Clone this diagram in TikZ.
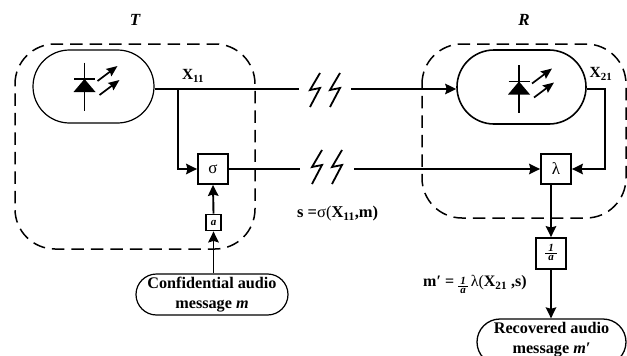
\documentclass[tikz,border=0pt]{standalone}
\usepackage{fontspec}
\setmainfont{Liberation Serif}
\usetikzlibrary{arrows.meta,shapes.misc}
\tikzset{
  x=1pt,y=-1pt,
  wire/.style={line width=1.9pt,line cap=butt},
  arr/.style={wire,-{Stealth[length=11pt,width=10.5pt,inset=1.5pt]}},
  smallarr/.style={line width=1.7pt,-{Stealth[length=11pt,width=9pt,inset=1.5pt]}},
  zone/.style={line width=1.5pt,dash pattern=on 12.5pt off 7pt},
  pill/.style={draw,line width=1.2pt,rounded rectangle,inner sep=0pt,align=center},
  opbox/.style={draw,line width=1.8pt,minimum width=30pt,minimum height=30pt,inner sep=0pt,font=\fontsize{17}{17}\selectfont},
  lbl/.style={font=\fontsize{15.5}{15.5}\selectfont\bfseries,inner sep=0pt},
  bolt/.style={line width=1.8pt,line join=miter},
  txt/.style={font=\fontsize{16.2}{20}\selectfont\bfseries,align=center,inner sep=0pt}
}
\newcommand{\led}[2]{%
  \draw[line width=1.6pt] (#1,#2-24) -- (#1,#2+24);
  \draw[line width=1.6pt] (#1-10.5,#2-7.5) -- (#1+10.5,#2-7.5);
  \fill (#1,#2-7.5) -- (#1+11,#2+5.5) -- (#1-11,#2+5.5) -- cycle;
  \draw[smallarr] (#1+13,#2-5.5) -- (#1+33,#2-20.5);
  \draw[smallarr] (#1+15,#2+8.5) -- (#1+35,#2-6.5);
}
\newcommand{\boltat}[2]{%
  \draw[bolt] (#1+5,#2-17) -- (#1-5,#2) -- (#1+5,#2-2) -- (#1-5,#2+17);
}
% fraction one over a: #1 font size, #2 bar width
\newcommand{\ofrac}[2]{\raisebox{-0.42ex}{\fontsize{#1}{#1}\selectfont\bfseries\itshape\setlength{\tabcolsep}{0pt}\renewcommand{\arraystretch}{0.8}\begin{tabular}{@{}c@{}}\makebox[#2]{1}\\[-1pt]\hline\noalign{\vskip 1pt}a\end{tabular}}}
\begin{document}
\begin{tikzpicture}
\useasboundingbox (0,0) rectangle (627,356);
% zones
\draw[zone] (15,84) arc[start angle=180,end angle=270,radius=40] -- (215,44) arc[start angle=270,end angle=360,radius=40] -- (255,209) arc[start angle=0,end angle=90,radius=40] -- (55,249) arc[start angle=90,end angle=180,radius=40] -- cycle;
\draw[zone] (422,84) arc[start angle=180,end angle=270,radius=40] -- (586,44) arc[start angle=270,end angle=360,radius=40] -- (626,178) arc[start angle=0,end angle=90,radius=40] -- (462,218) arc[start angle=90,end angle=180,radius=40] -- cycle;
% pills
\node[pill,minimum width=121pt,minimum height=73pt] (tx) at (93.5,86.5) {};
\node[pill,line width=1.6pt,minimum width=129pt,minimum height=74pt] (rx) at (521.5,87) {};
\led{84.5}{86.5}
\led{519}{89}
% boxes
\node[opbox] (sigma) at (213,169) {σ};
\node[opbox] (lambda) at (556,169) {λ};
\node[draw,line width=1.8pt,minimum width=15pt,minimum height=16pt,inner sep=0pt,font=\fontsize{11}{11}\selectfont\bfseries\itshape] (scale) at (213.5,222.5) {a};
\node[draw,line width=1.8pt,minimum width=30pt,minimum height=31pt,inner sep=0pt] (inv) at (551,253.5) {\ofrac{11}{12pt}};
\node[pill,minimum width=152pt,minimum height=41pt] (src) at (212,294.5) {};
\node[txt] (srct) at (212,294.5) {Confidential audio\\message \textit{m}};
\node[pill,line width=1.3pt,minimum width=149pt,minimum height=46pt] (dst) at (551.5,342) {};
\node[txt,anchor=north] (dstt) at (551.5,322) {Recovered audio\\message \textit{m′}};
% labels
\node[lbl,font=\fontsize{17}{17}\selectfont\bfseries\itshape] (tl) at (135,20) {T};
\node[lbl,font=\fontsize{17}{17}\selectfont\bfseries\itshape] (rl) at (524,20) {R};
\node[lbl] (x11) at (193,76) {X\textsubscript{11}};
\node[lbl] (x21) at (601,74) {X\textsubscript{21}};
\node[lbl,anchor=west,font=\fontsize{16.5}{16.5}\selectfont\bfseries] (seq) at (297,214) {s =\textmd{σ(}X\textsubscript{11},m)};
\node[lbl,anchor=west,font=\fontsize{16}{16}\selectfont\bfseries] (meq) at (423,286) {m′ = \ofrac{11}{10pt}\,\textmd{λ(}X\textsubscript{21} ,s)};
% coordinates
\coordinate (a1) at (299,89);
\coordinate (a2) at (351,89);
\coordinate (b1) at (300,169);
\coordinate (b2) at (354,169);
\coordinate (tap) at (178,89);
\coordinate (corner) at (605,89);
% bolts
\boltat{315}{90}
\boltat{335}{90}
\boltat{317}{167}
\boltat{337}{167}
% connectors
\draw[wire] (tx.east |- a1) -- (a1);
\draw[arr] (a2) -- (rx.west |- a2);
\draw[arr] (tap) |- (sigma.west);
\draw[wire] (sigma.east) -- (b1);
\draw[arr] (b2) -- (lambda.west);
\draw[arr] (rx.east |- corner) -- (corner) |- (lambda.east);
\draw[arr] (scale.north) -- (sigma.south);
\draw[arr] (src.north -| scale) -- (scale.south);
\draw[arr] (lambda.south -| inv) -- (inv.north);
\draw[arr] (inv.south) -- (dst.north -| inv);
\end{tikzpicture}
\end{document}
